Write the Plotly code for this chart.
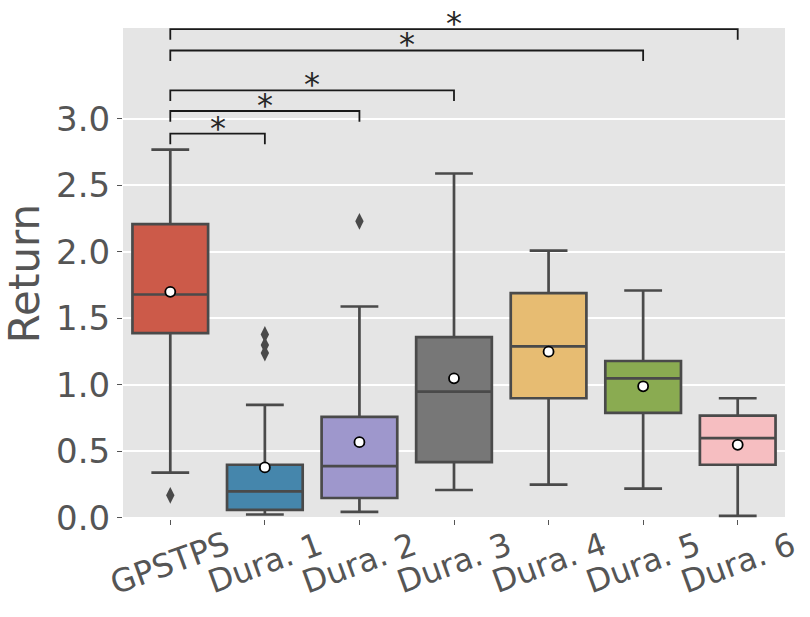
import plotly.graph_objects as go

# box statistics
categories = ['GPSTPS', 'Dura. 1', 'Dura. 2', 'Dura. 3', 'Dura. 4', 'Dura. 5', 'Dura. 6']
q1 = [1.39, 0.06, 0.15, 0.42, 0.90, 0.79, 0.40]
median = [1.68, 0.20, 0.39, 0.95, 1.29, 1.05, 0.60]
q3 = [2.21, 0.40, 0.76, 1.36, 1.69, 1.18, 0.77]
lower_whisker = [0.34, 0.026, 0.046, 0.21, 0.25, 0.22, 0.016]
upper_whisker = [2.77, 0.85, 1.59, 2.59, 2.01, 1.71, 0.90]
means = [1.70, 0.38, 0.57, 1.05, 1.25, 0.99, 0.55]

# outliers (category index, value)
outlier_idx = [0, 1, 1, 1, 2]
outlier_val = [0.17, 1.38, 1.30, 1.24, 2.23]

# significance brackets: GPSTPS vs target category
bracket_target = [1, 2, 3, 5, 6]
bracket_height = [2.89, 3.06, 3.215, 3.515, 3.675]
bracket_label = ['*', '*', '*', '*', '*']
bracket_tip = 0.08

colors = ['#CC5A49', '#4586AC', '#9E97CC', '#777777', '#E7BC72', '#8AAB51', '#F6BEC1']
line_color = '#4a4a4a'
text_color = '#555555'
font_family = 'DejaVu Sans'

fig = go.Figure()

for i, name in enumerate(categories):
    fig.add_trace(go.Box(
        x=[i],
        q1=[q1[i]],
        median=[median[i]],
        q3=[q3[i]],
        lowerfence=[lower_whisker[i]],
        upperfence=[upper_whisker[i]],
        name=name,
        width=0.8,
        whiskerwidth=0.5,
        fillcolor=colors[i],
        line=dict(color=line_color, width=2.7),
        boxpoints=False,
        showlegend=False
    ))

# outliers
fig.add_trace(go.Scatter(
    x=outlier_idx,
    y=outlier_val,
    mode='markers',
    marker=dict(symbol='diamond-tall', size=12, color=line_color),
    showlegend=False
))

# means
fig.add_trace(go.Scatter(
    x=list(range(len(categories))),
    y=means,
    mode='markers',
    marker=dict(symbol='circle', size=10, color='white',
                line=dict(color='black', width=1.8)),
    showlegend=False
))

# brackets and stars
for tgt, h, lab in zip(bracket_target, bracket_height, bracket_label):
    fig.add_shape(
        type='path',
        path=f'M 0,{h - bracket_tip} L 0,{h} L {tgt},{h} L {tgt},{h - bracket_tip}',
        xref='x', yref='y',
        line=dict(color='#1a1a1a', width=1.8),
        layer='above'
    )
    fig.add_annotation(
        x=tgt / 2, y=h, xref='x', yref='y',
        text=lab, showarrow=False,
        xanchor='center', yanchor='middle', yshift=6,
        font=dict(family=font_family, size=32, color='#262626')
    )

# rotated category labels
for i, name in enumerate(categories):
    fig.add_annotation(
        x=i, y=0, xref='x', yref='paper',
        text=name, showarrow=False, textangle=-20,
        xanchor='center', yanchor='middle', yshift=-44,
        font=dict(family=font_family, size=32, color=text_color)
    )

fig.update_xaxes(
    range=[-0.5, 6.5],
    tickvals=list(range(len(categories))),
    showticklabels=False,
    ticks='outside', ticklen=5, tickwidth=1.3, tickcolor=text_color,
    showgrid=False, zeroline=False
)
fig.update_yaxes(
    range=[-0.008, 3.684],
    tickvals=[0, 0.5, 1.0, 1.5, 2.0, 2.5, 3.0],
    ticktext=['0.0', '0.5', '1.0', '1.5', '2.0', '2.5', '3.0'],
    ticks='outside', ticklen=5, tickwidth=1.3, tickcolor=text_color,
    tickfont=dict(family=font_family, size=34, color=text_color),
    title=dict(text='Return', font=dict(family=font_family, size=42, color=text_color), standoff=18),
    gridcolor='white', gridwidth=1.5, zeroline=False, automargin=False
)

fig.update_layout(
    width=810, height=617,
    margin=dict(l=123, r=25, t=28, b=98),
    plot_bgcolor='#E5E5E5',
    paper_bgcolor='white',
    font=dict(family=font_family, color=text_color),
    boxmode='overlay',
    showlegend=False
)

fig.write_html('out.html', config={'displayModeBar': False},
               post_script="document.body.style.margin='0px';")
